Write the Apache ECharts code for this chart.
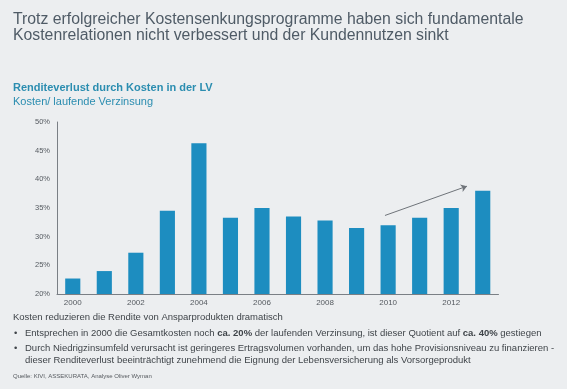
<!DOCTYPE html>
<html><head><meta charset="utf-8">
<script src="https://cdn.jsdelivr.net/npm/echarts@6/dist/echarts.min.js"></script>
<style>html,body{margin:0;padding:0;background:#eceef0;}#c{width:567px;height:389px;}</style>
</head><body><div id="c"></div>
<script>
var years = ['2000','2001','2002','2003','2004','2005','2006','2007','2008','2009','2010','2011','2012','2013'];
var kostenQuote = [22.7, 24.0, 27.2, 34.5, 46.3, 33.3, 35.0, 33.5, 32.8, 31.5, 32.0, 33.3, 35.0, 38.0];
var yTicks = [20, 25, 30, 35, 40, 45, 50];
// trend arrow in data space: [category position (index), percent]
var trendArrow = [[9.9, 33.7], [12.5, 38.8]];

var chart = echarts.init(document.getElementById('c'));
var F = 'Liberation Sans, Arial, sans-serif';
chart.setOption({
  backgroundColor: '#eceef0',
  animation: false,
  title: [
    {text: 'Trotz erfolgreicher Kostensenkungsprogramme haben sich fundamentale\nKostenrelationen nicht verbessert und der Kundennutzen sinkt',
     left: 13, top: 12, padding: 0, textStyle: {fontFamily: F, fontSize: 15.8, fontWeight: 'normal', color: '#4f5b66', lineHeight: 16}},
    {text: 'Renditeverlust durch Kosten in der LV', left: 13, top: 82, padding: 0,
     textStyle: {fontFamily: F, fontSize: 11, fontWeight: 'bold', color: '#2b8db0'}},
    {text: 'Kosten/ laufende Verzinsung', left: 13, top: 96, padding: 0,
     textStyle: {fontFamily: F, fontSize: 11, fontWeight: 'normal', color: '#2b8db0'}}
  ],
  grid: {left: 57, right: 68.5, top: 122, bottom: 95, containLabel: false},
  xAxis: [{
    type: 'category', data: years,
    axisLine: {onZero: false, lineStyle: {color: '#7a7f85', width: 1}},
    axisTick: {show: false},
    axisLabel: {interval: 1, color: '#555a60', fontFamily: F, fontSize: 8, margin: 5}
  }, {
    type: 'value', min: -0.5, max: years.length - 0.5, show: false
  }],
  yAxis: {
    type: 'value', min: yTicks[0], max: yTicks[yTicks.length - 1], interval: 5,
    axisLine: {show: true, onZero: false, lineStyle: {color: '#7a7f85', width: 1}},
    axisTick: {show: false},
    splitLine: {show: false},
    axisLabel: {formatter: '{value}%', color: '#555a60', fontFamily: F, fontSize: 7.5, margin: 22, align: 'left'}
  },
  series: [{
    type: 'bar', data: kostenQuote, barWidth: '48%',
    itemStyle: {color: '#1d8dc0'}
  }, {
    type: 'line', xAxisIndex: 1, data: [], silent: true,
    markLine: {
      silent: true, symbol: ['none', 'arrow'], symbolSize: 6,
      label: {show: false},
      lineStyle: {color: '#6f747a', width: 1, type: 'solid'},
      data: [[{coord: trendArrow[0]}, {coord: trendArrow[1]}]]
    }
  }],
  graphic: [
    {type: 'text', left: 13, top: 312, style: {text: 'Kosten reduzieren die Rendite von Ansparprodukten dramatisch', font: '9.5px ' + F, fill: '#3f4449'}},
    {type: 'text', left: 14, top: 328, style: {text: '•', font: '9.5px ' + F, fill: '#3f4449'}},
    {type: 'text', left: 25, top: 328, style: {
      text: 'Entsprechen in 2000 die Gesamtkosten noch {b|ca. 20%} der laufenden Verzinsung, ist dieser Quotient auf {b|ca. 40%} gestiegen',
      font: '9.5px ' + F, fill: '#3f4449', rich: {b: {fontWeight: 'bold', fontSize: 9.5, fontFamily: F, fill: '#3f4449'}}}},
    {type: 'text', left: 14, top: 343, style: {text: '•', font: '9.5px ' + F, fill: '#3f4449'}},
    {type: 'text', left: 25, top: 342, style: {
      text: 'Durch Niedrigzinsumfeld verursacht ist geringeres Ertragsvolumen vorhanden, um das hohe Provisionsniveau zu finanzieren -\ndieser Renditeverlust beeinträchtigt zunehmend die Eignung der Lebensversicherung als Vorsorgeprodukt',
      font: '9.5px ' + F, fill: '#3f4449', lineHeight: 12}},
    {type: 'text', left: 13, top: 373, style: {text: 'Quelle: KIVI, ASSEKURATA, Analyse Oliver Wyman', font: '6px ' + F, fill: '#55595e'}}
  ]
});
</script></body></html>
